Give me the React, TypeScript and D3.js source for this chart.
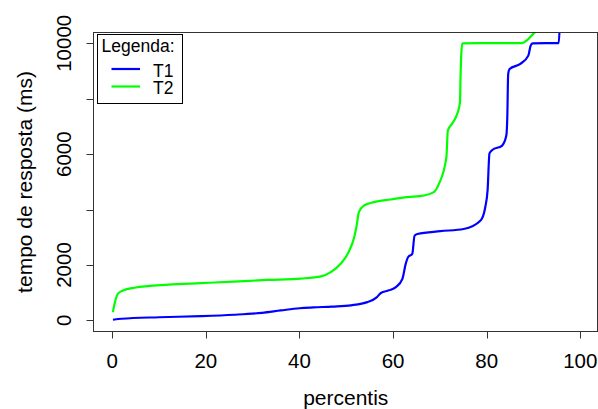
import React, { useEffect, useRef } from "react";
import { select, scaleLinear, line, curveMonotoneX } from "d3";

// percentil -> tempo de resposta (ms)
const t1Pct = [0.15, 2, 10, 19, 26, 32, 36, 40, 43, 47, 51, 54.5, 56.5, 57.4, 59.1, 60.6, 62, 62.7, 63.2, 64.1, 64.6, 65.2, 70.1, 75.1, 78.7, 79.7, 80.2, 80.6, 81.2, 83.3, 84.2, 84.4, 84.6, 84.9, 87.2, 88.9, 89.4, 89.8, 95.4, 95.6];
const t1Ms = [25, 60, 115, 155, 205, 275, 360, 440, 470, 500, 545, 660, 830, 990, 1085, 1200, 1500, 2040, 2280, 2400, 3060, 3120, 3220, 3300, 3606, 4086, 4700, 6030, 6150, 6310, 6670, 7272, 8895, 9075, 9260, 9556, 9917, 10000, 10010, 10600];

const t2Pct = [0.15, 0.5, 1.2, 2.3, 4.75, 12, 19, 26, 33, 40.3, 44.6, 46.7, 48.8, 50.6, 51.7, 52.2, 52.7, 53.8, 55.9, 59.5, 63, 66.6, 68.7, 69.8, 71.4, 71.7, 72.6, 73.7, 74.3, 74.4, 74.6, 74.8, 87.6, 88.3, 89, 90, 92.2];
const t2Ms = [300, 600, 960, 1080, 1180, 1290, 1345, 1400, 1460, 1510, 1590, 1743, 2043, 2500, 3005, 3400, 3906, 4147, 4267, 4363, 4447, 4508, 4627, 4928, 5890, 6851, 7092, 7453, 7872, 8654, 9676, 10000, 10010, 10075, 10170, 10350, 10600];

const xTicks = [0, 20, 40, 60, 80, 100];
const yTicks = [0, 2000, 4000, 6000, 8000, 10000];
const yTickLabels = ["0", "", "", "6000", "", "10000"];
yTickLabels[1] = "2000";

const seriesNames = ["T1", "T2"];
const seriesColors = ["#0000ff", "#00ff00"];

function App() {
  const svgRef = useRef<SVGSVGElement>(null);

  useEffect(() => {
    const W = 598;
    const H = 409;
    const box = { left: 93.5, right: 597.5, top: 32.5, bottom: 331.5 };
    const font = "Liberation Sans, Arial, sans-serif";

    const svg = select(svgRef.current).attr("width", W).attr("height", H);
    svg.selectAll("*").remove();

    const x = scaleLinear().domain([-4, 104]).range([box.left, box.right + 1.5]);
    const y = scaleLinear().domain([-400, 10390]).range([box.bottom, box.top]);

    svg.append("defs").append("clipPath").attr("id", "plotclip")
      .append("rect")
      .attr("x", box.left).attr("y", box.top)
      .attr("width", box.right - box.left).attr("height", box.bottom - box.top);

    // curvas
    const series = [
      t1Pct.map((p, i) => [p, t1Ms[i]]),
      t2Pct.map((p, i) => [p, t2Ms[i]]),
    ];
    const path = line<number[]>()
      .x((d) => x(d[0]))
      .y((d) => y(d[1]))
      .curve(curveMonotoneX);

    svg.append("g").attr("clip-path", "url(#plotclip)")
      .selectAll("path")
      .data(series)
      .join("path")
      .attr("d", (d) => path(d))
      .attr("fill", "none")
      .attr("stroke", (_, i) => seriesColors[i])
      .attr("stroke-width", 2.2)
      .attr("stroke-linejoin", "round");

    // caixa
    svg.append("rect")
      .attr("x", box.left).attr("y", box.top)
      .attr("width", box.right - box.left).attr("height", box.bottom - box.top)
      .attr("fill", "none").attr("stroke", "#333").attr("stroke-width", 1);

    // eixo x
    const gx = svg.append("g");
    gx.selectAll("line")
      .data(xTicks)
      .join("line")
      .attr("x1", (d) => Math.round(x(d)) + 0.5).attr("x2", (d) => Math.round(x(d)) + 0.5)
      .attr("y1", box.bottom).attr("y2", box.bottom + 7)
      .attr("stroke", "#333");
    gx.selectAll("text")
      .data(xTicks)
      .join("text")
      .text((d) => d)
      .attr("x", (d) => x(d))
      .attr("y", 367.5)
      .attr("text-anchor", "middle")
      .attr("font-family", font)
      .attr("font-size", 20.5)
      .attr("fill", "#000");

    // eixo y
    const gy = svg.append("g");
    gy.selectAll("line")
      .data(yTicks)
      .join("line")
      .attr("x1", box.left - 7).attr("x2", box.left)
      .attr("y1", (d) => Math.round(y(d)) + 0.5).attr("y2", (d) => Math.round(y(d)) + 0.5)
      .attr("stroke", "#333");
    gy.selectAll("text")
      .data(yTicks)
      .join("text")
      .text((_, i) => yTickLabels[i])
      .attr("transform", (d) => `translate(71, ${y(d)}) rotate(-90)`)
      .attr("text-anchor", "middle")
      .attr("font-family", font)
      .attr("font-size", 20.5)
      .attr("fill", "#000");

    // titulos
    svg.append("text")
      .text("percentis")
      .attr("x", (box.left + 598) / 2)
      .attr("y", 405)
      .attr("text-anchor", "middle")
      .attr("font-family", font)
      .attr("font-size", 21)
      .attr("fill", "#000");
    svg.append("text")
      .text("tempo de resposta (ms)")
      .attr("transform", `translate(32, ${(box.top + box.bottom) / 2}) rotate(-90)`)
      .attr("text-anchor", "middle")
      .attr("font-family", font)
      .attr("font-size", 21)
      .attr("fill", "#000");

    // legenda
    const lg = svg.append("g");
    lg.append("rect")
      .attr("x", 97.5).attr("y", 34.5).attr("width", 85).attr("height", 69)
      .attr("fill", "#fff").attr("stroke", "#000").attr("stroke-width", 1);
    lg.append("text")
      .text("Legenda:")
      .attr("x", 101.5).attr("y", 51.5)
      .attr("font-family", font).attr("font-size", 17.5).attr("fill", "#000");
    const items = lg.selectAll("g.item")
      .data(seriesNames)
      .join("g")
      .classed("item", true)
      .attr("transform", (_, i) => `translate(0, ${69 + i * 17.5})`);
    items.append("line")
      .attr("x1", 111.5).attr("x2", 140)
      .attr("y1", 0).attr("y2", 0)
      .attr("stroke", (_, i) => seriesColors[i])
      .attr("stroke-width", 2.2);
    items.append("text")
      .text((d) => d)
      .attr("x", 153).attr("y", 7.5)
      .attr("font-family", font).attr("font-size", 17.5).attr("fill", "#000");
  }, []);

  return (
    <svg ref={svgRef} style={{ position: "absolute", left: 0, top: 0, background: "#fff" }}></svg>
  );
}

export default App;
